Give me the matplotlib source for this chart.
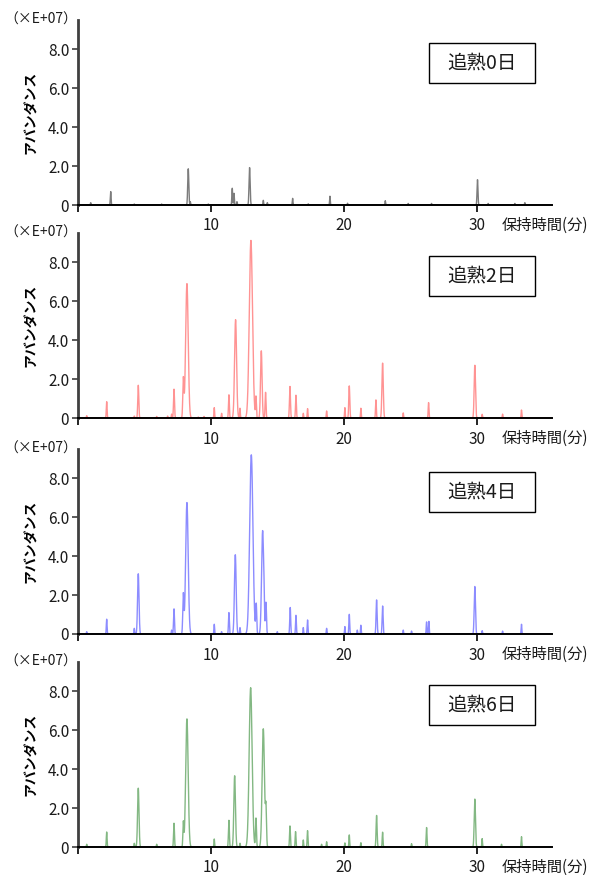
# GC-MS total ion chromatograms of fruit after 0, 2, 4 and 6 days of ripening
import numpy as np
import matplotlib
matplotlib.use("Agg")
import matplotlib.pyplot as plt
from matplotlib.patches import Rectangle

plt.rcParams['font.family'] = ['Noto Sans CJK JP', 'DejaVu Sans']

# peak tables: retention time (min) and height (x1e7)
rt_day0 = [0.99, 2.49, 4.26, 6.31, 8.31, 8.46, 9.81, 11.61, 11.74, 11.96, 12.91,
           13.94, 14.24, 16.14, 17.31, 18.94, 20.26, 23.09, 24.81, 26.56, 30.01,
           30.81, 32.81, 33.56]
h_day0 = [0.12, 0.69, 0.05, 0.05, 1.86, 0.17, 0.05, 0.86, 0.60, 0.17, 1.92,
          0.24, 0.12, 0.34, 0.06, 0.45, 0.09, 0.22, 0.08, 0.08, 1.30,
          0.08, 0.08, 0.12]

rt_day2 = [0.69, 2.19, 4.26, 4.56, 5.94, 6.76, 7.06, 7.24, 7.94, 8.21, 9.06,
           9.49, 10.26, 10.81, 11.36, 11.86, 12.19, 13.01, 13.39, 13.79, 14.11,
           15.94, 16.39, 16.94, 17.26, 18.69, 20.06, 20.39, 21.26, 22.39, 22.89,
           24.44, 26.34, 29.81, 30.36, 31.89, 33.31]
h_day2 = [0.12, 0.84, 0.10, 1.68, 0.08, 0.10, 0.20, 1.48, 1.99, 6.90, 0.05,
          0.08, 0.53, 0.24, 1.19, 5.05, 0.50, 9.12, 1.07, 3.45, 1.32,
          1.62, 1.17, 0.24, 0.48, 0.36, 0.53, 1.65, 0.50, 0.93, 2.82,
          0.26, 0.79, 2.71, 0.19, 0.20, 0.41]

rt_day4 = [0.69, 2.19, 4.26, 4.56, 7.06, 7.24, 7.94, 8.21, 10.26, 10.81, 11.36,
           11.84, 12.19, 13.04, 13.41, 13.89, 13.99, 14.14, 14.99, 15.96, 16.39,
           16.94, 17.26, 18.69, 20.06, 20.39, 20.99, 21.26, 22.44, 22.89, 24.44,
           25.06, 26.19, 26.36, 29.81, 30.36, 31.89, 33.31]
h_day4 = [0.12, 0.76, 0.29, 3.09, 0.20, 1.29, 2.01, 6.75, 0.50, 0.12, 1.10,
          4.07, 0.33, 9.20, 1.50, 5.31, 0.70, 1.60, 0.12, 1.36, 0.96,
          0.33, 0.72, 0.29, 0.38, 1.01, 0.20, 0.45, 1.75, 1.44, 0.20,
          0.15, 0.62, 0.65, 2.44, 0.17, 0.15, 0.50]

rt_day6 = [0.69, 2.19, 4.26, 4.56, 5.94, 7.24, 7.94, 8.21, 10.26, 11.36, 11.79,
           12.19, 12.99, 13.39, 13.94, 14.14, 15.94, 16.36, 16.94, 17.26, 18.31,
           18.69, 20.06, 20.39, 21.26, 22.44, 22.89, 25.06, 26.19, 29.81, 30.36,
           31.81, 33.31]
h_day6 = [0.14, 0.77, 0.19, 3.02, 0.14, 1.22, 1.25, 6.58, 0.41, 1.37, 3.66,
          0.19, 8.18, 1.48, 6.07, 1.86, 1.08, 0.79, 0.36, 0.84, 0.14,
          0.27, 0.21, 0.62, 0.22, 1.62, 0.76, 0.17, 1.00, 2.46, 0.43,
          0.14, 0.53]

labels = ['追熟0日', '追熟2日', '追熟4日', '追熟6日']
colors = ['#6e6e6e', '#ff5a5a', '#5c5cff', '#4f9a4f']
alphas = [0.9, 0.65, 0.7, 0.7]
peaks = [(rt_day0, h_day0), (rt_day2, h_day2), (rt_day4, h_day4), (rt_day6, h_day6)]

yticks = [0, 2, 4, 6, 8]
ytick_labels = ['0', '2.0', '4.0', '6.0', '8.0']
xticks = [0, 10, 20, 30]
xtick_labels = ['', '10', '20', '30']

W, H = 590, 875
fig = plt.figure(figsize=(W / 100, H / 100), dpi=100)

x0_px, x1_px = 77.5, 552
zero_px = [205, 418, 634, 847]
ax_h_px = 185

t = np.arange(0, 35.6, 0.004)


def trace(rts, hs):
    # each peak drawn as a gaussian, wider for taller peaks
    y = np.zeros_like(t)
    for r, h in zip(rts, hs):
        s = 0.02 + 0.011 * h
        y += h * np.exp(-0.5 * ((t - r) / s) ** 2)
    return y


for i, (rts, hs) in enumerate(peaks):
    ax = fig.add_axes([x0_px / W, 1 - zero_px[i] / H,
                       (x1_px - x0_px) / W, ax_h_px / H])
    ax.plot(t, trace(rts, hs), color=colors[i], lw=1.0, alpha=alphas[i])
    ax.set_xlim(0, 35.6)
    ax.set_ylim(0, 9.5)
    for s in ['top', 'right']:
        ax.spines[s].set_visible(False)
    ax.spines['left'].set_color('#404040')
    ax.spines['left'].set_linewidth(2.0)
    ax.spines['bottom'].set_color('black')
    ax.spines['bottom'].set_linewidth(1.4)
    ax.set_yticks(yticks)
    ax.set_yticklabels(ytick_labels)
    ax.set_xticks(xticks)
    ax.set_xticklabels(xtick_labels)
    ax.tick_params(axis='y', length=4, width=1.2, color='#404040',
                   labelsize=11, labelcolor='#1a1a1a', pad=2)
    ax.tick_params(axis='x', length=5, width=1.2, color='black',
                   labelsize=11, labelcolor='#1a1a1a', pad=4)
    ax.set_ylabel('アバンダンス', fontsize=10, fontweight='bold', labelpad=7)
    ax.text(-0.078, 1.0, '（×E+07）', transform=ax.transAxes, fontsize=10,
            ha='center', va='center', color='#1a1a1a')
    ax.text(0.893, -0.108, '保持時間(分)', transform=ax.transAxes, fontsize=11,
            ha='left', va='center', color='#1a1a1a', clip_on=False)
    ax.add_patch(Rectangle((0.741, 0.66), 0.223, 0.216, transform=ax.transAxes,
                           facecolor='white', edgecolor='black', lw=1.0, zorder=5))
    ax.text(0.8525, 0.768, labels[i], transform=ax.transAxes, fontsize=14,
            ha='center', va='center', color='#1a1a1a', zorder=6)

fig.savefig('out.png', dpi=100)
